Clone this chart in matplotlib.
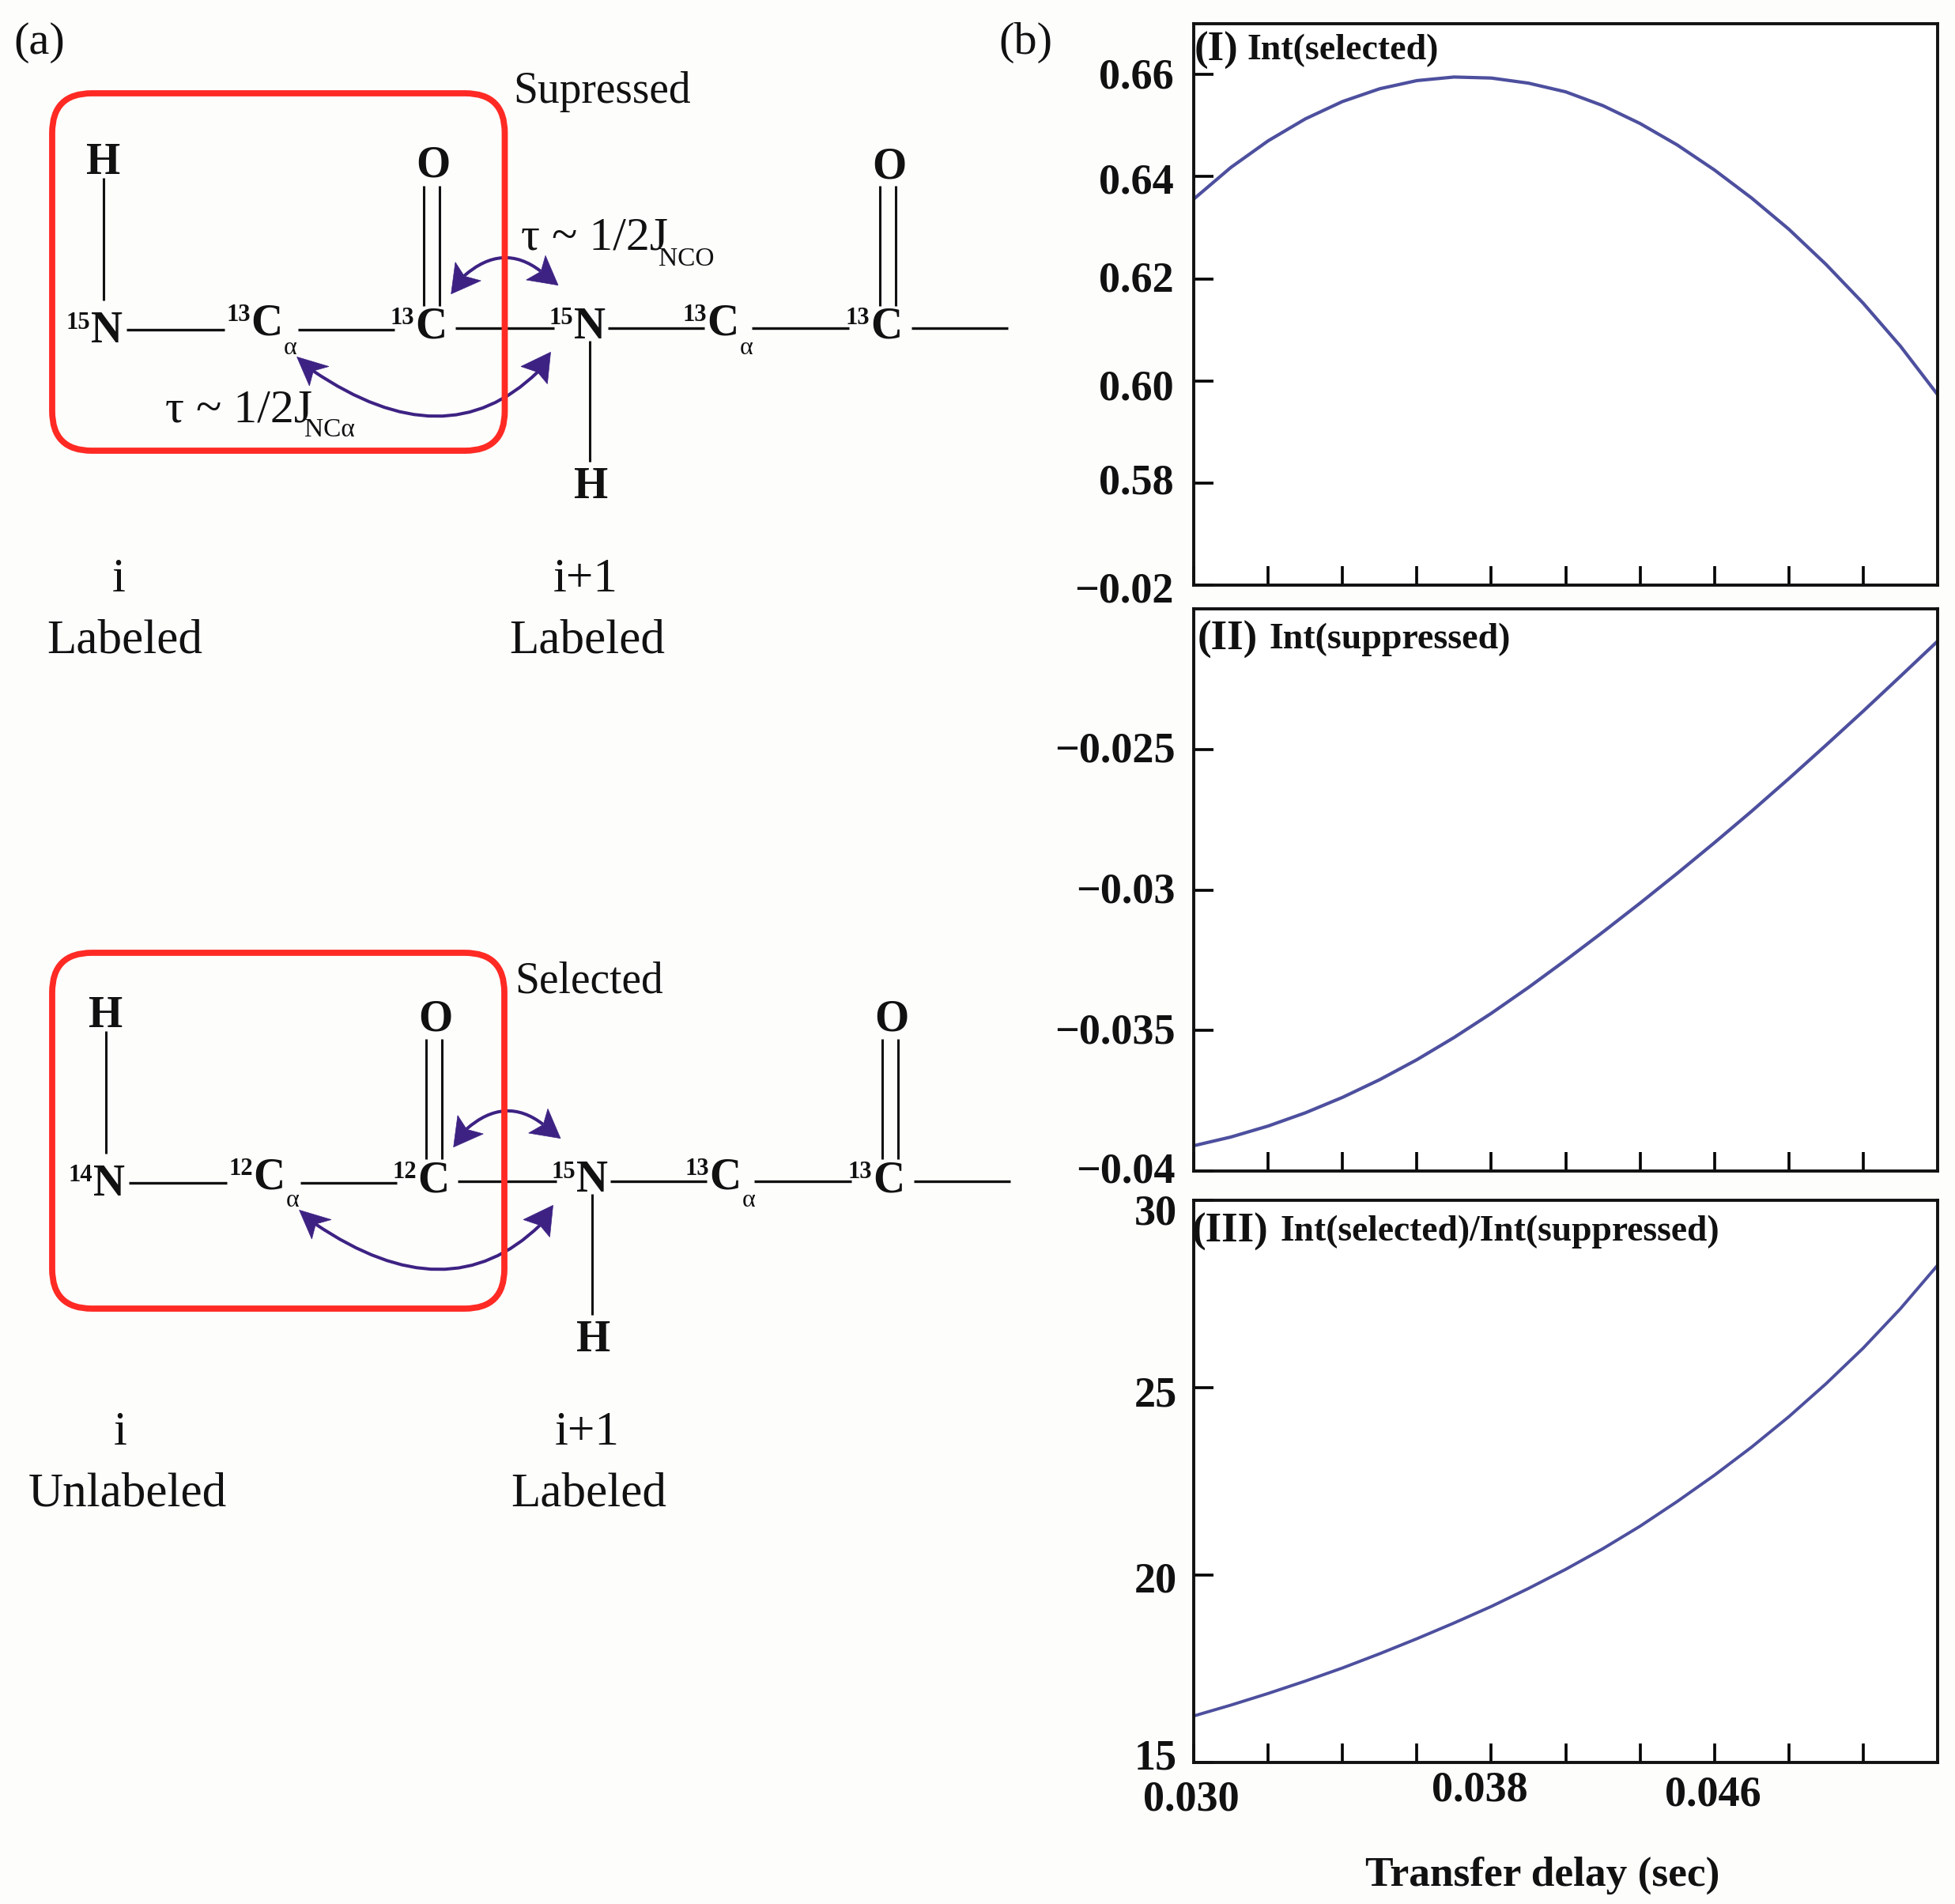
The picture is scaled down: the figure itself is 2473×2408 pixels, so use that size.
"""Panel (a) peptide labelling schematic, panel (b) transfer delay curves."""

import matplotlib

matplotlib.use("Agg")
import matplotlib.pyplot as plt
from matplotlib.patches import FancyBboxPatch, PathPatch, Polygon
from matplotlib.path import Path
from matplotlib.transforms import Affine2D

WIDTH, HEIGHT = 2473, 2408
INK = "#111111"
CURVE = "#4d4f9e"
ARROW = "#3d2283"
RED = "#ff2a24"

plt.rcParams["font.family"] = ["Liberation Serif", "DejaVu Serif"]

# Values, one every 0.001 s
delay = [0.030, 0.031, 0.032, 0.033, 0.034, 0.035, 0.036, 0.037, 0.038, 0.039, 0.040,
         0.041, 0.042, 0.043, 0.044, 0.045, 0.046, 0.047, 0.048, 0.049, 0.050]
int_selected = [0.6356, 0.6418, 0.6470, 0.6513, 0.6547, 0.6572, 0.6588, 0.6595, 0.6593, 0.6583, 0.6566,
                0.6539, 0.6504, 0.6462, 0.6413, 0.6358, 0.6297, 0.6228, 0.6152, 0.6068, 0.5973]
int_suppressed = [-0.03910, -0.03879, -0.03840, -0.03793, -0.03738, -0.03675, -0.03604, -0.03525, -0.03439,
                  -0.03347, -0.03250, -0.03150, -0.03047, -0.02941, -0.02832, -0.02720, -0.02604, -0.02485,
                  -0.02364, -0.02240, -0.02115]
int_ratio = [16.24, 16.53, 16.84, 17.17, 17.52, 17.90, 18.30, 18.72, 19.16, 19.64, 20.15,
             20.70, 21.30, 21.96, 22.66, 23.41, 24.22, 25.10, 26.05, 27.10, 28.26]

x_ticks = [0.030, 0.032, 0.034, 0.036, 0.038, 0.040, 0.042, 0.044, 0.046, 0.048]
x_labels = ["0.030", "", "", "", "0.038", "", "", "0.046", "", ""]
# the source figure labels its ticks like this, so the labels are kept as drawn
y1_ticks = [0.56, 0.58, 0.60, 0.62, 0.64, 0.66]
y1_labels = ["\u22120.02", "0.58", "0.60", "0.62", "0.64", "0.66"]
y2_ticks = [-0.04, -0.035, -0.03, -0.025]
y2_labels = ["\u22120.04", "\u22120.035", "\u22120.03", "\u22120.025"]
y3_ticks = [15, 20, 25, 30]
y3_labels = ["15", "20", "25", "30"]

elements = ["N", "C", "C", "N", "C", "C"]
iso_top = ["15", "13", "13", "15", "13", "13"]
iso_bottom = ["14", "12", "12", "15", "13", "13"]


def panel_axes(fig, left, top, right, bottom):
    return fig.add_axes([left / WIDTH, 1 - bottom / HEIGHT, (right - left) / WIDTH, (bottom - top) / HEIGHT])


def style_panel(ax, y_ticks, y_labels, ylim, pad):
    ax.set_xlim(0.030, 0.050)
    ax.set_ylim(*ylim)
    ax.set_xticks(x_ticks, [""] * len(x_ticks))
    ax.set_yticks(y_ticks, y_labels)
    ax.tick_params(axis="x", direction="in", length=17, width=2.6)
    ax.tick_params(axis="y", direction="in", length=18, width=2.6, pad=pad, labelsize=39, labelcolor=INK)
    for label in ax.get_yticklabels():
        label.set_fontweight("bold")
    for spine in ax.spines.values():
        spine.set_linewidth(2.8)
        spine.set_color(INK)


def shift_labels(labels, offsets):
    # the hand-placed labels of the source sit off their ticks by a few pixels
    for label, (dx, dy) in zip(labels, offsets):
        label.set_transform(label.get_transform() + Affine2D().translate(dx, dy))


def put(ax, x, y, s, size, weight="normal", ha="center"):
    # +4: va="center" sits a little high for this font
    ax.text(x, y + 4, s, fontsize=size, fontweight=weight, ha=ha, va="center", color=INK)


def draw_arrow(ax, dx, dy, start, ctrl, end, head_a, head_b):
    verts = [(x + dx, y + dy) for x, y in (start, ctrl, end)]
    ax.add_patch(PathPatch(Path(verts, [Path.MOVETO, Path.CURVE3, Path.CURVE3]), fc="none", ec=ARROW, lw=2.9))
    for head in (head_a, head_b):
        ax.add_patch(Polygon([(x + dx, y + dy) for x, y in head], closed=True, fc=ARROW, ec=ARROW, lw=0.5))


def draw_peptide(ax, isotopes, dx, dy):
    """Backbone drawn in the frame of the upper molecule, shifted by (dx, dy)."""
    atoms = [(135, 415), (337.5, 406), (545, 410), (746, 410), (914.6, 406), (1121, 410)]
    for (x, y), element, iso in zip(atoms, elements, isotopes):
        put(ax, x + dx, y + dy, element, 40, "bold")
        put(ax, x - 36 + dx, y - 11 + dy, iso, 22, "bold")
    for x, y in (atoms[1], atoms[4]):
        put(ax, x + 30 + dx, y + 30 + dy, "\u03b1", 23)

    bonds = [(160, 284, 417), (377, 499, 417), (576, 701, 415), (769, 891, 415), (951, 1074, 415), (1153, 1275, 415)]
    for x0, x1, y in bonds:
        ax.plot([x0 + dx, x1 + dx], [y + dy, y + dy], color=INK, lw=2.4, solid_capstyle="butt")
    for x, y0, y1 in [(131, 225, 380), (746, 431, 584), (536.5, 235, 387), (556, 235, 387), (1113, 235, 387), (1133, 235, 387)]:
        ax.plot([x + dx, x + dx], [y0 + dy, y1 + dy], color=INK, lw=2.2, solid_capstyle="butt")

    put(ax, 131 + dx, 202 + dy, "H", 40, "bold")
    put(ax, 748 + dx, 611.6 + dy, "H", 40, "bold")
    put(ax, 548 + dx, 206 + dy, "O", 40, "bold")
    put(ax, 1125 + dx, 207 + dy, "O", 40, "bold")

    draw_arrow(ax, dx, dy, (587, 349), (636, 306), (684, 343),
               [(570.7, 371.7), (576, 331.7), (587.3, 349.3), (608.3, 355)],
               [(706, 360.7), (690, 323.3), (684.3, 343.3), (665.7, 354)])
    draw_arrow(ax, dx, dy, (396, 469), (564, 583), (680, 470.6),
               [(375.6, 451.4), (391.4, 488), (396.4, 469), (416, 463.5)],
               [(696.5, 445.4), (692.4, 485.5), (680, 470.6), (659, 463.5)])


def red_box(ax, left, top, right, bottom):
    ax.add_patch(FancyBboxPatch((left, top), right - left, bottom - top, boxstyle="round,pad=0,rounding_size=50",
                                fc="none", ec=RED, lw=5.6, zorder=4))


fig = plt.figure(figsize=(WIDTH / 100, HEIGHT / 100), dpi=100, facecolor="#fdfdfc")

# panels of (b)
ax1 = panel_axes(fig, 1510, 29.6, 2451, 740)
ax2 = panel_axes(fig, 1510, 770, 2451, 1481)
ax3 = panel_axes(fig, 1510, 1517.6, 2451, 2229)

style_panel(ax1, y1_ticks, y1_labels, (0.56, 0.67), 18)
style_panel(ax2, y2_ticks, y2_labels, (-0.04, -0.02), 17)
style_panel(ax3, y3_ticks, y3_labels, (15, 30), 15)

ax1.plot(delay, int_selected, color=CURVE, lw=3.0)
ax2.plot(delay, int_suppressed, color=CURVE, lw=3.0)
ax3.plot(delay, int_ratio, color=CURVE, lw=2.8)

ax3.set_xticks(x_ticks, x_labels, fontsize=39, fontweight="bold", color=INK)
ax3.tick_params(axis="x", pad=12)
shift_labels(ax3.get_xticklabels(), [(-3, -6), (0, 0), (0, 0), (0, 0), (-15, 6), (0, 0), (0, 0), (-2, 0), (0, 0), (0, 0)])
shift_labels(ax1.get_yticklabels(), [(0, -2), (0, 5), (0, -5), (0, 3), (0, -2), (0, 2)])
shift_labels(ax2.get_yticklabels(), [(0, 5), (0, 3), (0, 3), (0, 3)])
shift_labels(ax3.get_yticklabels(), [(0, 10), (0, -3), (0, -5), (0, -12)])
ax3.set_xlabel("Transfer delay (sec)", fontsize=38.4, fontweight="bold", color=INK)
ax3.xaxis.set_label_coords(0.469, -0.201)
ax3.xaxis.label.set_verticalalignment("center")

# schematic and free text, in reference pixels
over = fig.add_axes([0, 0, 1, 1], zorder=5)
over.set_xlim(0, WIDTH)
over.set_ylim(HEIGHT, 0)
over.axis("off")

draw_peptide(over, iso_top, 0, 0)
draw_peptide(over, iso_bottom, 3, 1079)
red_box(over, 66, 118, 638.5, 570)
red_box(over, 66, 1205, 638, 1655)

put(over, 50, 50, "(a)", 42)
put(over, 1297, 50, "(b)", 42)
put(over, 649, 112, "Supressed", 40, ha="left")
put(over, 651, 1238, "Selected", 40, ha="left")

put(over, 659, 298, "\u03c4 ~ 1/2J", 43, ha="left")
put(over, 833, 324, "NCO", 24, ha="left")
put(over, 209, 516, "\u03c4 ~ 1/2J", 43, ha="left")
put(over, 385, 540, "NC\u03b1", 24, ha="left")

for x_i, x_next, x_lab, x_lab2, y_i, y_lab, word in [
    (150, 740.5, 157.5, 743, 729.5, 807, "Labeled"),
    (152.6, 743, 161, 744.6, 1808, 1885.5, "Unlabeled"),
]:
    put(over, x_i, y_i, "i", 44)
    put(over, x_next, y_i, "i+1", 44)
    put(over, x_lab, y_lab, word, 44)
    put(over, x_lab2, y_lab, "Labeled", 44)

put(over, 1511, 60, "(I)", 38, "bold", ha="left")
put(over, 1578, 60, "Int(selected)", 33, "bold", ha="left")
put(over, 1515, 805, "(II)", 38, "bold", ha="left")
put(over, 1606, 805, "Int(suppressed)", 33, "bold", ha="left")
put(over, 1508, 1554, "(III)", 38, "bold", ha="left")
put(over, 1620, 1554, "Int(selected)/Int(suppressed)", 32.8, "bold", ha="left")

fig.savefig("out.png", dpi=100, facecolor=fig.get_facecolor())
